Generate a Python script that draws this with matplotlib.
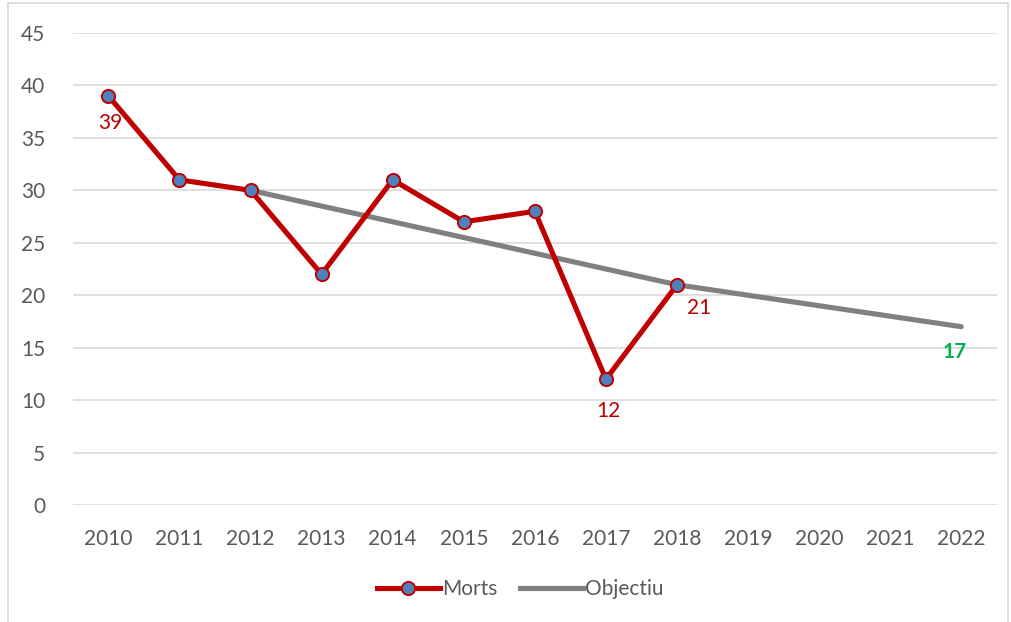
import numpy as np
import matplotlib.pyplot as plt
from matplotlib.lines import Line2D
from matplotlib.patches import Rectangle

plt.rcParams['font.family'] = ['Lato', 'DejaVu Sans']

anys = [2010, 2011, 2012, 2013, 2014, 2015, 2016, 2017, 2018, 2019, 2020, 2021, 2022]
morts = [39, 31, 30, 22, 31, 27, 28, 12, 21]          # 2010-2018
objectiu_anys = [2012, 2013, 2014, 2015, 2016, 2017, 2018, 2019, 2020, 2021, 2022]
objectiu = [30, 28.5, 27, 25.5, 24, 22.5, 21, 20, 19, 18, 17]

vermell = '#C00000'
gris = '#808080'
blau = '#4F81BD'
text_gris = '#595959'
gruix = 3.7

fig = plt.figure(figsize=(10.12, 6.22), dpi=100)
ax = fig.add_axes([0.072, 0.188, 0.913, 0.759])

# marc exterior del grafic
fig.patches.append(Rectangle((8 / 1012, -0.05), 1000 / 1012, 1.05 - 3 / 622,
                             transform=fig.transFigure, fill=False,
                             edgecolor='#D9D9D9', linewidth=1.2))

x_idx = {a: i for i, a in enumerate(anys)}
xm = [x_idx[a] for a in anys[:len(morts)]]
xo = [x_idx[a] for a in objectiu_anys]

ax.plot(xo, objectiu, color=gris, linewidth=gruix, solid_capstyle='round', zorder=2)
ax.plot(xm, morts, color=vermell, linewidth=gruix, marker='o', markersize=9.5,
        markerfacecolor=blau, markeredgecolor=vermell, markeredgewidth=1.4, zorder=3)

# etiquetes de dades
etiquetes = {2010: (2, -27), 2017: (2, -32), 2018: (22, -23)}
for a, (dx, dy) in etiquetes.items():
    v = morts[anys.index(a)]
    ax.annotate(str(v), (x_idx[a], v), xytext=(dx, dy), textcoords='offset pixels',
                ha='center', va='center', color=vermell, fontsize=15)
ax.annotate(str(objectiu[-1]), (x_idx[2022], objectiu[-1]), xytext=(-7, -25),
            textcoords='offset pixels', ha='center', va='center',
            color='#00B050', fontsize=15, fontweight='bold')

ax.set_xlim(-0.5, len(anys) - 0.5)
ax.set_ylim(0, 45)
ax.set_yticks(np.arange(0, 46, 5))
ax.set_xticks(range(len(anys)))
ax.set_xticklabels([str(a) for a in anys])
ax.grid(axis='y', color='#D9D9D9', linewidth=1.2)
ax.set_axisbelow(True)
for s in ax.spines.values():
    s.set_visible(False)
ax.tick_params(length=0, labelsize=15, labelcolor=text_gris)
ax.tick_params(axis='y', pad=20)
ax.tick_params(axis='x', pad=17)

handles = [
    Line2D([], [], color=vermell, linewidth=gruix, marker='o', markersize=9.5,
           markerfacecolor=blau, markeredgecolor=vermell, markeredgewidth=1.4),
    Line2D([], [], color=gris, linewidth=gruix),
]
leg = fig.legend(handles, ['Morts', 'Objectiu'], loc='center', bbox_to_anchor=(0.514, 0.053),
                 ncol=2, frameon=False, fontsize=15, handlelength=3, handletextpad=0.1,
                 columnspacing=1.1)
for t in leg.get_texts():
    t.set_color(text_gris)

fig.savefig('out.png', dpi=100)
